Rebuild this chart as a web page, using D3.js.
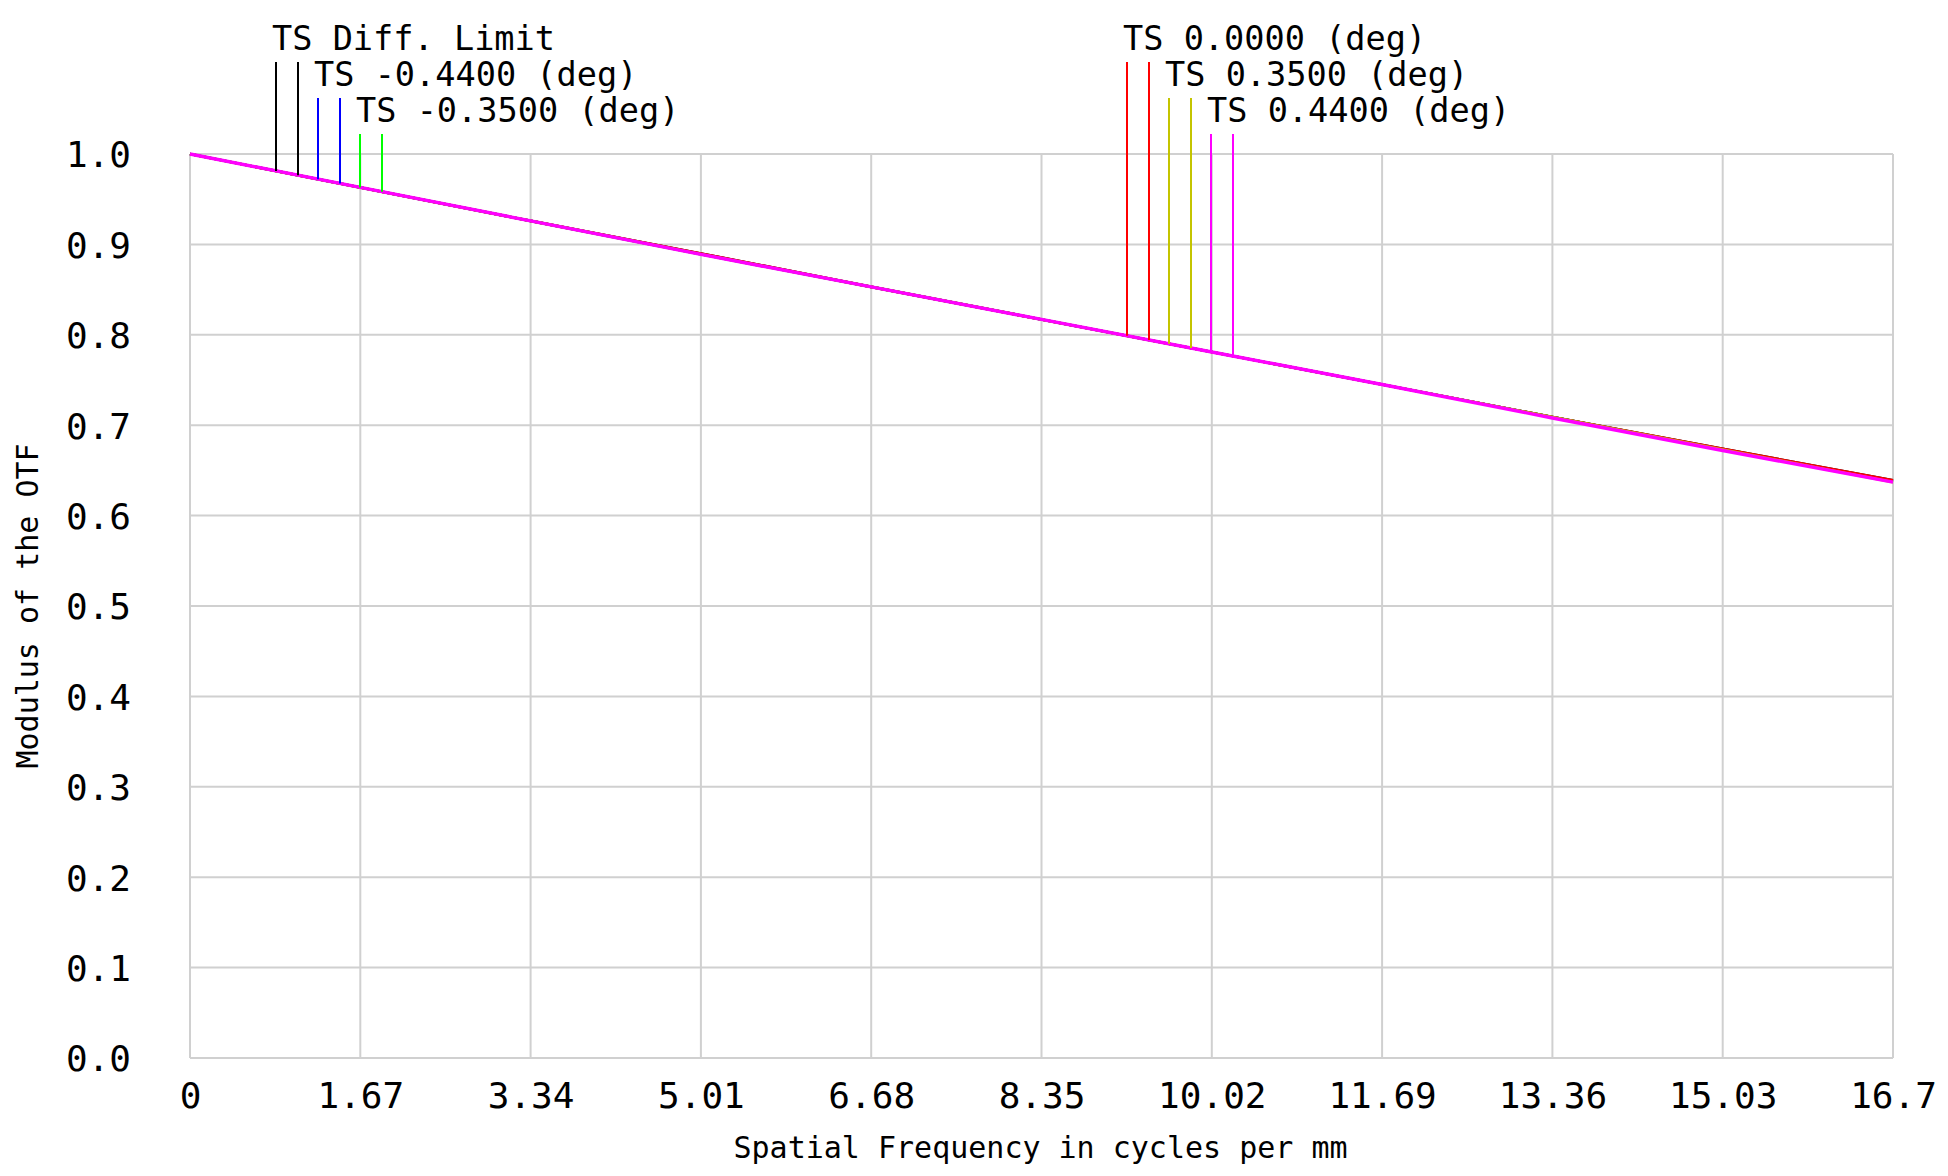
<!DOCTYPE html>
<html><head><meta charset="utf-8">
<script src="https://cdn.jsdelivr.net/npm/d3@7"></script>
<style>
html,body{margin:0;padding:0;background:#fff;}
svg text{font-family:"DejaVu Sans Mono",monospace;fill:#000;}
</style></head>
<body>
<svg id="chart" width="1948" height="1176"></svg>
<script>
// ---- data ----
const frequencies = [0, 1.67, 3.34, 5.01, 6.68, 8.35, 10.02, 11.69, 13.36, 15.03, 16.7];
const xTickValues = [0, 1.67, 3.34, 5.01, 6.68, 8.35, 10.02, 11.69, 13.36, 15.03, 16.7];
const xTickLabels = ["0", "1.67", "3.34", "5.01", "6.68", "8.35", "10.02", "11.69", "13.36", "15.03", "16.7"];
const yTickValues = [0, 0.1, 0.2, 0.3, 0.4, 0.5, 0.6, 0.7, 0.8, 0.9, 1.0];
const yTickLabels = ["0.0", "0.1", "0.2", "0.3", "0.4", "0.5", "0.6", "0.7", "0.8", "0.9", "1.0"];

const seriesNames = ["TS Diff. Limit", "TS -0.4400 (deg)", "TS -0.3500 (deg)", "TS 0.0000 (deg)", "TS 0.3500 (deg)", "TS 0.4400 (deg)"];
const seriesColors = ["#000000", "#0000ff", "#00ff00", "#ff0000", "#c4c400", "#ff00ff"];
const diffLimit = [1.0, 0.963, 0.926, 0.890, 0.853, 0.817, 0.781, 0.745, 0.709, 0.674, 0.639];
const tsMinus044 = [1.0, 0.963, 0.926, 0.889, 0.853, 0.817, 0.781, 0.745, 0.709, 0.673, 0.638];
const tsMinus035 = [1.0, 0.963, 0.926, 0.889, 0.853, 0.817, 0.781, 0.745, 0.709, 0.673, 0.638];
const ts000 = [1.0, 0.963, 0.926, 0.890, 0.853, 0.817, 0.781, 0.745, 0.709, 0.674, 0.639];
const ts035 = [1.0, 0.963, 0.926, 0.889, 0.853, 0.817, 0.781, 0.745, 0.709, 0.673, 0.637];
const ts044 = [1.0, 0.963, 0.926, 0.889, 0.853, 0.817, 0.781, 0.745, 0.708, 0.672, 0.637];
const seriesValues = [diffLimit, tsMinus044, tsMinus035, ts000, ts035, ts044];

const xTitle = "Spatial Frequency in cycles per mm";
const yTitle = "Modulus of the OTF";

// ---- layout ----
const plot = {left: 190, right: 1893, top: 154, bottom: 1058};
const svg = d3.select("#chart");
const x = d3.scaleLinear().domain([0, 16.7]).range([plot.left, plot.right]);
const y = d3.scaleLinear().domain([0, 1]).range([plot.bottom, plot.top]);

const gridColor = "#d0d0d0";
svg.append("g").selectAll("line").data(xTickValues).join("line")
  .attr("x1", d => x(d)).attr("x2", d => x(d))
  .attr("y1", plot.top).attr("y2", plot.bottom)
  .attr("stroke", gridColor).attr("stroke-width", 2);
svg.append("g").selectAll("line").data(yTickValues).join("line")
  .attr("x1", plot.left).attr("x2", plot.right)
  .attr("y1", d => y(d)).attr("y2", d => y(d))
  .attr("stroke", gridColor).attr("stroke-width", 2);

const xAxis = d3.axisBottom(x).tickValues(xTickValues).tickSize(0).tickPadding(0)
  .tickFormat((d, i) => xTickLabels[i]);
const gx = svg.append("g").attr("transform", `translate(0,${plot.bottom})`).call(xAxis);
gx.select(".domain").remove();
gx.selectAll("text").attr("font-size", 36).attr("font-family", "DejaVu Sans Mono")
  .attr("y", 50).attr("dy", 0).attr("fill", "#000");

const yAxis = d3.axisLeft(y).tickValues(yTickValues).tickSize(0).tickPadding(0)
  .tickFormat((d, i) => yTickLabels[i]);
const gy = svg.append("g").attr("transform", `translate(${plot.left},0)`).call(yAxis);
gy.select(".domain").remove();
gy.selectAll("text").attr("font-size", 36).attr("font-family", "DejaVu Sans Mono")
  .attr("x", -59).attr("dy", "0.36em").attr("fill", "#000");

svg.append("text").attr("x", (plot.left + plot.right) / 2 - 1).attr("y", 1158)
  .attr("text-anchor", "middle").attr("font-size", 30).text(xTitle);
svg.append("text").attr("transform", `translate(38,${(plot.top + plot.bottom) / 2}) rotate(-90)`)
  .attr("text-anchor", "middle").attr("font-size", 30).text(yTitle);

const line = d3.line().x((d, i) => x(frequencies[i])).y(d => y(d));
seriesValues.forEach((vals, k) => {
  svg.append("path").datum(vals).attr("d", line)
    .attr("fill", "none").attr("stroke", seriesColors[k])
    .attr("stroke-width", k === seriesValues.length - 1 ? 3.4 : 2.6);
});

function valueAt(vals, f) {
  const i = Math.max(0, Math.min(frequencies.length - 2, d3.bisectRight(frequencies, f) - 1));
  const t = (f - frequencies[i]) / (frequencies[i + 1] - frequencies[i]);
  return vals[i] + t * (vals[i + 1] - vals[i]);
}
const groupOrigins = [276, 1127];
seriesNames.forEach((name, k) => {
  const g = Math.floor(k / 3), row = k % 3;
  const m1 = groupOrigins[g] + row * 42;
  const top = 62 + row * 36;
  svg.append("text").attr("x", m1 - 4).attr("y", top - 12)
    .attr("font-size", 33.6).text(name);
  [m1, m1 + 22].forEach(mx => {
    svg.append("line").attr("x1", mx).attr("x2", mx)
      .attr("y1", top).attr("y2", y(valueAt(seriesValues[k], x.invert(mx))))
      .attr("stroke", seriesColors[k]).attr("stroke-width", 2);
  });
});
</script>
</body></html>
